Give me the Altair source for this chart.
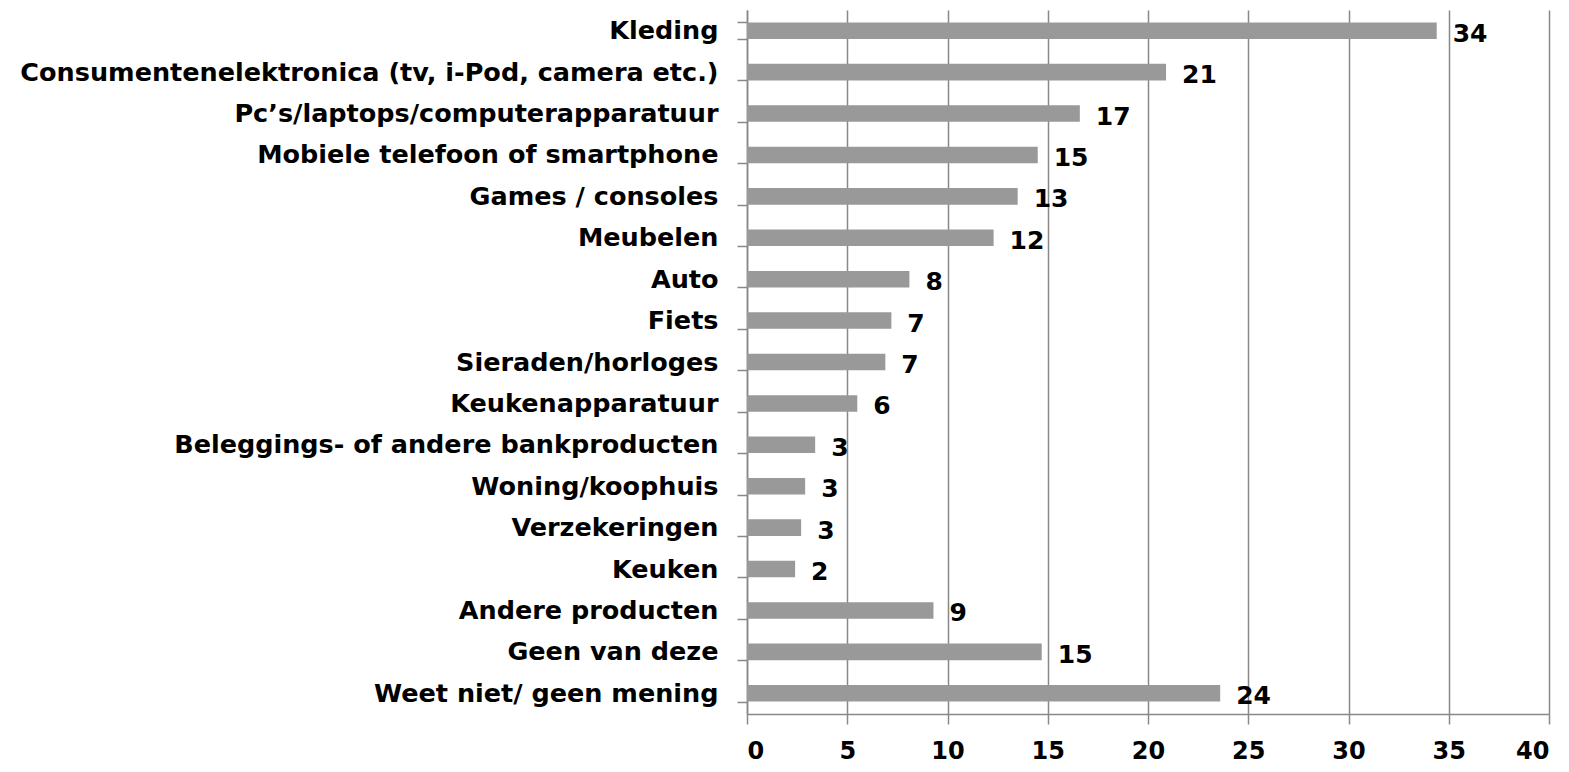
import altair as alt
import pandas as pd

categories = [
    "Kleding",
    "Consumentenelektronica (tv, i-Pod, camera etc.)",
    "Pc’s/laptops/computerapparatuur",
    "Mobiele telefoon of smartphone",
    "Games / consoles",
    "Meubelen",
    "Auto",
    "Fiets",
    "Sieraden/horloges",
    "Keukenapparatuur",
    "Beleggings- of andere bankproducten",
    "Woning/koophuis",
    "Verzekeringen",
    "Keuken",
    "Andere producten",
    "Geen van deze",
    "Weet niet/ geen mening",
]
values = [34.4, 20.9, 16.6, 14.5, 13.5, 12.3, 8.1, 7.2, 6.9, 5.5, 3.4, 2.9, 2.7, 2.4, 9.3, 14.7, 23.6]
labels = ["34", "21", "17", "15", "13", "12", "8", "7", "7", "6", "3", "3", "3", "2", "9", "15", "24"]

df = pd.DataFrame({"cat": categories, "val": values, "lab": labels})

FONT = "DejaVu Sans"

y_enc = alt.Y(
    "cat:N",
    sort=categories,
    title=None,
    scale=alt.Scale(paddingInner=0.6, paddingOuter=0.3),
    axis=alt.Axis(
        labelFont=FONT, labelFontWeight="bold", labelFontSize=25.5, labelColor="black",
        labelPadding=19, labelLimit=800,
        tickBand="extent", tickSize=10, tickColor="#888888", tickWidth=1.5,
        domainColor="#888888", domainWidth=1.5, grid=False,
    ),
)
x_enc = alt.X(
    "val:Q",
    title=None,
    scale=alt.Scale(domain=[0, 40], nice=False),
    axis=alt.Axis(
        values=[0, 5, 10, 15, 20, 25, 30, 35, 40],
        labelFont=FONT, labelFontWeight="bold", labelFontSize=24, labelColor="black",
        labelPadding=15, tickSize=10, tickColor="#888888", tickWidth=1.5,
        domainColor="#888888", domainWidth=1.5,
        grid=True, gridColor="#888888", gridWidth=1.5,
    ),
)

bars = alt.Chart(df).mark_bar(color="#999999").encode(x=x_enc, y=y_enc)
text = alt.Chart(df).mark_text(
    align="left", baseline="middle", dx=16, dy=3,
    font=FONT, fontWeight="bold", fontSize=25, color="black",
).encode(x="val:Q", y=alt.Y("cat:N", sort=categories), text="lab:N")

chart = (bars + text).properties(
    width=802, height=704,
    autosize=alt.AutoSizeParams(type="none"),
    padding={"left": 739, "top": 2, "right": 12, "bottom": 56},
).configure_view(stroke=None)

chart.save("out.html", embed_options={"renderer": "svg", "actions": False})
